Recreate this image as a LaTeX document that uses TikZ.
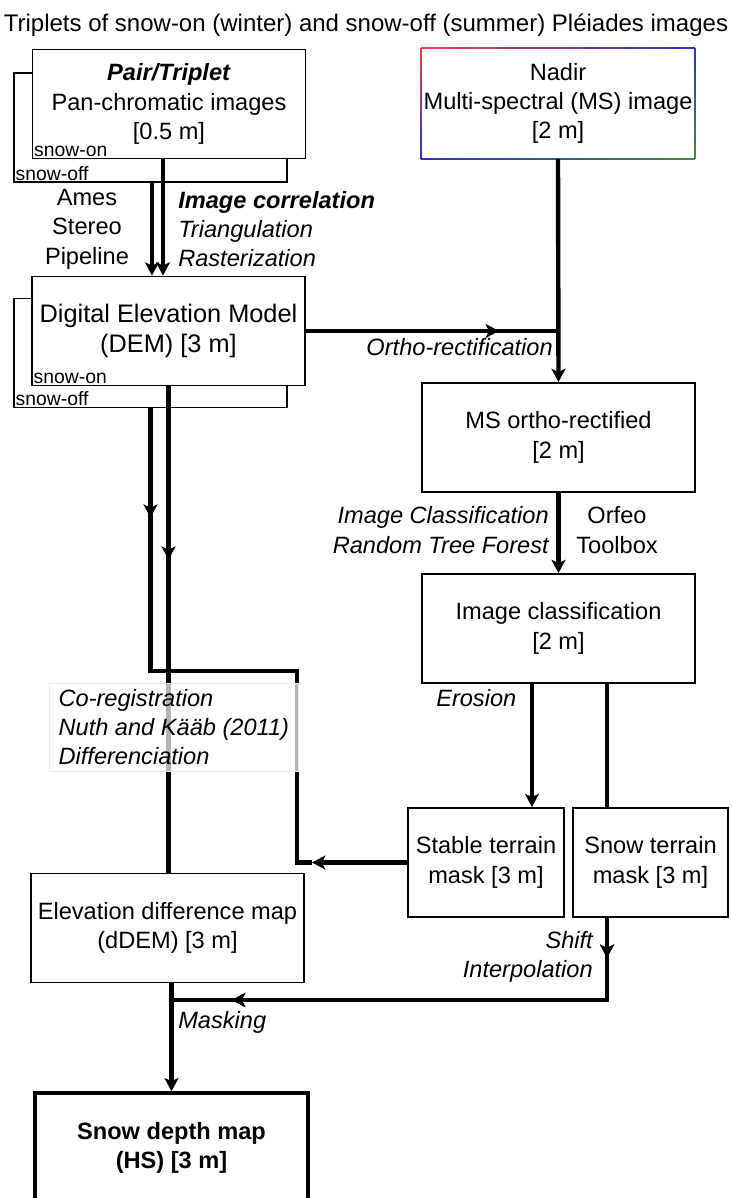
\documentclass[tikz,border=0pt]{standalone}
\usepackage{fontspec}
\setmainfont{Liberation Sans}
\usetikzlibrary{arrows.meta,decorations.markings}

\definecolor{msred}{RGB}{232,64,72}
\definecolor{msblue}{RGB}{48,48,196}
\definecolor{msgreen}{RGB}{64,140,64}

\newcommand{\txt}{\fontsize{17.7}{22}\selectfont}

\tikzset{
  box/.style={draw, line width=1.1pt, fill=white, align=center, font=\txt,
    minimum width=#1, minimum height=82pt, inner sep=0pt},
  box/.default=204.5pt,
  tag/.style={anchor=south west, inner sep=1.5pt, font=\fontsize{14.5}{15}\selectfont},
  lbl/.style={font=\txt, inner sep=0pt},
  flow/.style={line width=3.3pt},
  tip/.style={-{Stealth[length=10pt,width=10.5pt,inset=2.5pt]}},
  midtip/.style={postaction={decorate}, decoration={markings,
    mark=at position #1 with {\arrow{Stealth[length=10pt,width=10.5pt,inset=2.5pt]}}}}
}

\begin{document}
\begin{tikzpicture}[x=0.75pt, y=-0.75pt]
\useasboundingbox (0,0) rectangle (731,1198);

\node[lbl, anchor=base, font=\fontsize{18}{22}\selectfont] (title) at (366,32)
  {Triplets of snow-on (winter) and snow-off (summer) Pléiades images};

% pan-chromatic images
\node[box] (pan-back) at (150.5,127.5) {};
\node[tag] at (pan-back.south west) {snow-off};
\node[box] (pan) at (169,104) {\textbf{\textit{Pair/Triplet}}\\Pan-chromatic images\\{[0.5 m]}};
\node[tag] at (pan.south west) {snow-on};

% multi-spectral image, coloured frame
\node[box, draw=none] (ms) at (558,103.5) {Nadir\\Multi-spectral (MS) image\\{[2 m]}};
\shade[left color=msred, right color=msblue] ([yshift=0.6pt]ms.north west) rectangle ([yshift=-0.6pt]ms.north east);
\shade[left color=msblue, right color=msgreen] ([yshift=0.6pt]ms.south west) rectangle ([yshift=-0.6pt]ms.south east);
\shade[top color=msred, bottom color=msblue] ([xshift=-0.6pt]ms.north west) rectangle ([xshift=0.6pt]ms.south west);
\shade[top color=msblue, bottom color=msgreen] ([xshift=-0.6pt]ms.north east) rectangle ([xshift=0.6pt]ms.south east);

% DEM
\node[box] (dem-back) at (150.5,353) {};
\node[tag] at (dem-back.south west) {snow-off};
\node[box, font=\fontsize{19}{22}\selectfont] (dem) at (168.5,331) {Digital Elevation Model\\(DEM) [3 m]};
\node[tag] at (dem.south west) {snow-on};

\node[box] (ortho) at (558.5,437.5) {MS ortho-rectified\\{[2 m]}};
\node[box] (class) at (558.5,628.5) {Image classification\\{[2 m]}};
\node[box=117pt] (stable) at (486,862.5) {Stable terrain\\mask [3 m]};
\node[box=116.25pt] (snow) at (650.5,862.5) {Snow terrain\\mask [3 m]};
\node[box] (ddem) at (167.5,928) {Elevation difference map\\(dDEM) [3 m]};
\node[box, line width=3pt, font=\txt\bfseries] (hs) at (171.5,1148) {Snow depth map\\(HS) [3 m]};

% labels
\node[lbl, align=center] (asp) at (87,229) {Ames\\Stereo\\Pipeline};
\node[lbl, align=left, anchor=west] (corr) at (178,229)
  {\textbf{\textit{Image correlation}}\\\textit{Triangulation}\\\textit{Rasterization}};
\node[lbl, anchor=east, font=\txt\itshape] (orl) at (553,347) {Ortho-rectification};
\node[lbl, align=right, anchor=east, font=\txt\itshape] (rtf) at (549,530)
  {Image Classification\\Random Tree Forest};
\node[lbl, align=center] (otb) at (617,530) {Orfeo\\Toolbox};
\node[lbl, anchor=west, font=\txt\itshape] (ero) at (436,698) {Erosion};
\node[lbl, align=right, anchor=east, font=\txt\itshape] (shi) at (593,957) {Shift\\Interpolation};
\node[lbl, anchor=west, font=\txt\itshape] (msk) at (178,1022) {Masking};

% connectors
\coordinate (p1) at ([xshift=-4.5pt]pan.south);
\coordinate (p2) at ([xshift=1.1pt]pan-back.south);
\draw[flow, tip] (p1) -- (p1 |- dem.north);
\draw[flow, tip] (p2) -- (p2 |- dem.north);

\coordinate (oj) at (dem.east -| ms.south);
\draw[flow, midtip=145pt] (dem.east) -- (oj);
\draw[flow, tip] (ms.south) -- (ortho.north);
\draw[flow, tip] (ortho.south) -- (class.north);

\coordinate (c1) at ([xshift=-19.9pt]class.south);
\coordinate (c2) at ([xshift=36.4pt]class.south);
\draw[flow, tip] (c1) -- (c1 |- stable.north);
\draw[flow] (c2) -- (c2 |- snow.north);

% co-registration loop
\coordinate (k1) at (dem-back.south |- 0,671);
\coordinate (k2) at (297,671);
\coordinate (k3) at (k2 |- stable.west);
\coordinate (k4) at (312,0 |- stable.west);
\draw[flow, midtip=82pt] (dem-back.south) -- (k1) -- (k2) -- (k3) -- (k4);
\draw[flow, tip] (stable.west) -- (k4);
\draw[flow, midtip=130pt] (dem.south) -- (dem.south |- ddem.north);

% masking
\coordinate (s1) at (c2 |- snow.south);
\coordinate (s2) at (c2 |- 0,1000);
\coordinate (mj) at (hs.north |- s2);
\draw[flow, midtip=30pt, midtip=343pt] (s1) -- (s2) -- (mj);
\draw[flow, tip] (hs.north |- ddem.south) -- (hs.north);

\node[draw=gray!15, fill=white, fill opacity=0.7, text opacity=1, align=left, anchor=west,
  font=\txt\itshape, inner xsep=7pt, inner ysep=0pt, minimum height=66pt]
  (coreg) at (49,727) {Co-registration\\Nuth and Kääb (2011)\\Differenciation};
\end{tikzpicture}
\end{document}
